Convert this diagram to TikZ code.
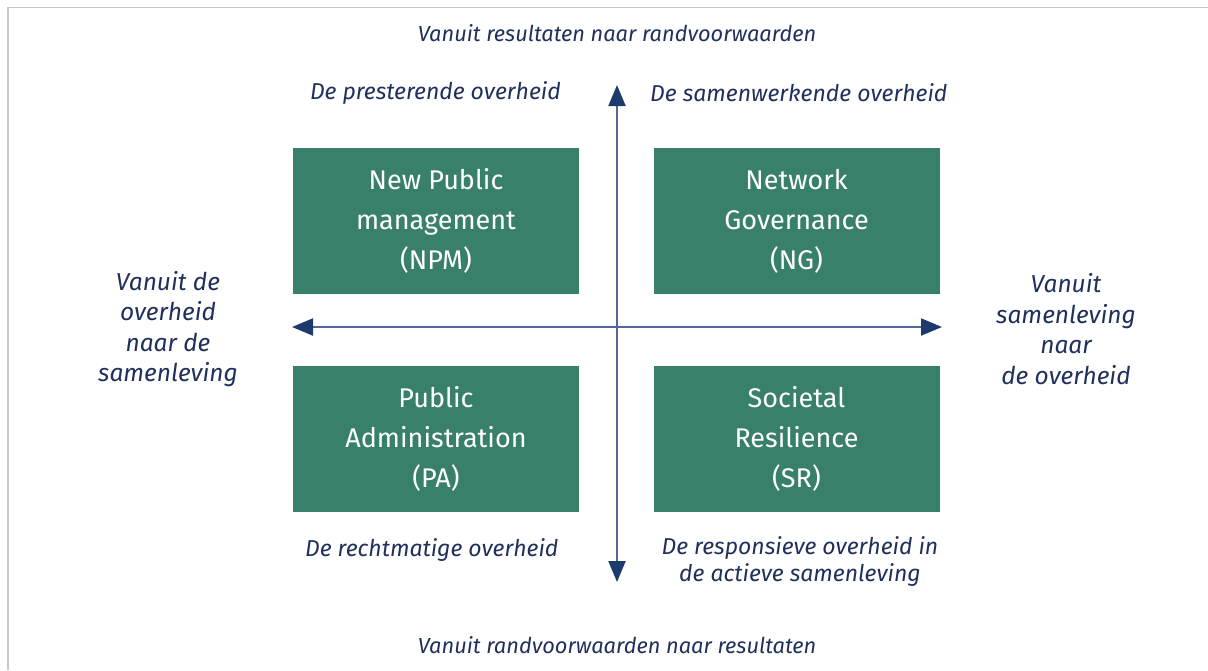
\documentclass[tikz,border=0pt]{standalone}
\usepackage{fontspec}
\setmainfont{Fira Sans}
\usetikzlibrary{arrows.meta}
\definecolor{boxgreen}{RGB}{56,128,107}
\definecolor{navytext}{RGB}{32,48,92}
\definecolor{axisline}{RGB}{80,105,150}
\definecolor{axishead}{RGB}{28,58,108}
\definecolor{framegray}{RGB}{200,200,200}
\begin{document}
\begin{tikzpicture}[x=1pt,y=-1pt,
  quad/.style={fill=boxgreen,minimum width=286pt,minimum height=146pt,inner sep=0pt},
  boxtext/.style={text=white,font=\fontsize{27}{40}\selectfont,align=center},
  lab/.style={text=navytext,font=\fontsize{23}{27}\selectfont\itshape,inner sep=0pt},
  toplab/.style={text=navytext,font=\fontsize{21.8}{27}\selectfont\itshape,inner sep=0pt},
  side/.style={text=navytext,font=\fontsize{24.5}{30.5}\selectfont\itshape,align=center,inner sep=0pt},
  axis/.style={draw=axisline,line width=2pt,
    {Triangle[length=21pt,width=17pt,fill=axishead,color=axishead]}-{Triangle[length=21pt,width=17pt,fill=axishead,color=axishead]}}
]
\useasboundingbox (0,0) rectangle (1208,670);
\draw[framegray,line width=1.5pt] (8,670) -- (8,7.5) -- (1208,7.5);

% boxes
\node[quad] (npm) at (436,221) {};
\node[quad] (ng) at (796.5,221) {};
\node[quad] (pa) at (436,439) {};
\node[quad] (sr) at (796.5,439) {};
\node[boxtext] (npmt) at (npm.center) {New Public\\management\\(NPM)};
\node[boxtext] (ngt) at (ng.center) {Network\\Governance\\(NG)};
\node[boxtext] (pat) at (pa.center) {Public\\Administration\\(PA)};
\node[boxtext] (srt) at (sr.center) {Societal\\Resilience\\(SR)};

% axes
\coordinate (top) at (617,85);
\coordinate (bot) at (617,582);
\coordinate (lft) at (292,327);
\coordinate (rgt) at (942,327);
\draw[axis] (lft) -- (rgt);
\draw[axis] (bot) -- (top);

% labels
\node[toplab] (tl) at (617,33) {Vanuit resultaten naar randvoorwaarden};
\node[toplab] (bl) at (617,645) {Vanuit randvoorwaarden naar resultaten};
\node[lab,anchor=east] (q1) at (561,93) {De presterende overheid};
\node[lab,anchor=west] (q2) at (650,93) {De samenwerkende overheid};
\node[lab,anchor=west] (q3) at (305,550) {De rechtmatige overheid};
\node[lab,align=center,anchor=north] (q4) at (800,536) {De responsieve overheid in\\de actieve samenleving};
\node[side] (ls) at (168,329) {Vanuit de\\overheid\\naar de\\samenleving};
\node[side] (rs) at (1066,329) {Vanuit\\samenleving\\naar\\de overheid};
\end{tikzpicture}
\end{document}
